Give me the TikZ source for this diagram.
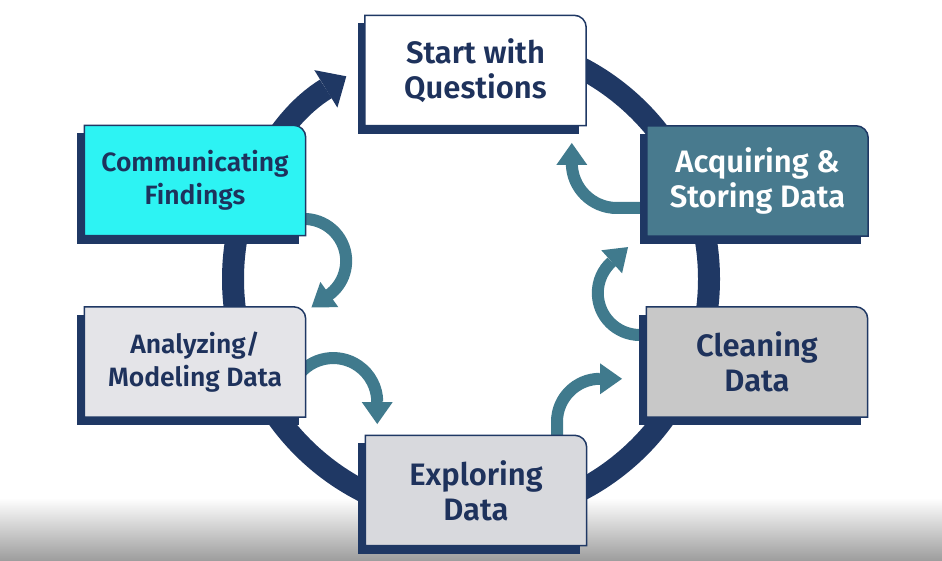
\documentclass[tikz,border=0pt]{standalone}
\usepackage{fontspec}
\setmainfont{Fira Sans}[BoldFont={Fira Sans SemiBold}]
\usetikzlibrary{arrows.meta}
\definecolor{navy}{RGB}{31,56,100}
\definecolor{txtnavy}{RGB}{30,50,92}
\definecolor{tealarr}{RGB}{64,122,141}
\definecolor{acqfill}{RGB}{72,122,142}
\definecolor{cyanfill}{RGB}{45,243,243}
\definecolor{cleanfill}{RGB}{200,200,200}
\definecolor{analfill}{RGB}{228,228,232}
\definecolor{explfill}{RGB}{216,217,221}
\pgfdeclarelayer{back}
\pgfdeclarelayer{boxes}
\pgfsetlayers{back,boxes,main}
\newcommand\stagebox[2]{%
  \begin{pgfonlayer}{boxes}
    \fill[navy] ([shift={(-7pt,-8pt)}]#1.south west) rectangle ([shift={(-7pt,-8pt)}]#1.north east);
    \draw[navy,line width=1.5pt,fill=#2] (#1.south west) -- (#1.north west) -- ([xshift=-12pt]#1.north east)
      arc[start angle=90,end angle=0,radius=12pt] -- (#1.south east) -- cycle;
  \end{pgfonlayer}}
\tikzset{
  stepbox/.style={minimum width=221pt,minimum height=110pt,inner sep=0pt,align=center,text=txtnavy,
    font=\fontsize{31}{35}\selectfont\bfseries},
  smalltext/.style={font=\fontsize{26.5}{33}\selectfont\bfseries},
  ring/.style={navy,line width=22pt,-{Triangle[length=24pt,width=44pt,line width=0pt]}},
  back arrow/.style={tealarr,line width=12pt,-{Triangle[length=22pt,width=31pt,line width=0pt]}}
}
\begin{document}
\begin{tikzpicture}[x=1pt,y=1pt]
\useasboundingbox (0,0) rectangle (942,560);
\coordinate (hub) at (471,281);
% nodes
\node[stepbox] (start) at (475.5,489.5) {Start with\\Questions};
\node[stepbox,smalltext] (comm) at (195,379.5) {Communicating\\Findings};
\node[stepbox,text=white] (acq) at (757.5,379) {Acquiring \&\\Storing Data};
\node[stepbox] (clean) at (757,198) {Cleaning\\Data};
\node[stepbox,smalltext] (anal) at (195,198) {Analyzing/\\Modeling Data};
\node[stepbox] (expl) at (476,69.5) {Exploring\\Data};
\stagebox{start}{white}
\stagebox{comm}{cyanfill}
\stagebox{acq}{acqfill}
\stagebox{clean}{cleanfill}
\stagebox{anal}{analfill}
\stagebox{expl}{explfill}
\begin{pgfonlayer}{back}
  \fill[white] (0,0) rectangle (942,560);
  \shade[top color=white,bottom color=black!38] (0,0) rectangle (942,62);
  % main cycle
  \draw[ring] ([yshift=238pt]hub) arc[start angle=90,end angle=-238.4,radius=238];
  % feedback arrows
  \draw[back arrow] ([shift={(-2,-27)}]acq.west) -- ++(-28,0)
     arc[start angle=-90,end angle=-180,radius=45] -- ++(0,20);
  \draw[back arrow] ([shift={(1.5,27)}]clean.west) -- ++(-8,0)
     arc[start angle=-90,end angle=-228,radius=42] -- ++(42:22);
  \draw[back arrow] ([shift={(81,-9.5)}]expl.north) -- ++(0,23)
     arc[start angle=180,end angle=90,radius=43] -- ++(22,0);
  \draw[back arrow] ([shift={(-8.5,-14.8)}]anal.east)
     arc[start angle=145,end angle=0,radius=44] -- ++(0,-22);
  \draw[back arrow] ([shift={(-15.9,-41)}]comm.east)
     arc[start angle=110,end angle=-54.5,radius=42] -- ++(-144.5:21);
\end{pgfonlayer}
\end{tikzpicture}
\end{document}
